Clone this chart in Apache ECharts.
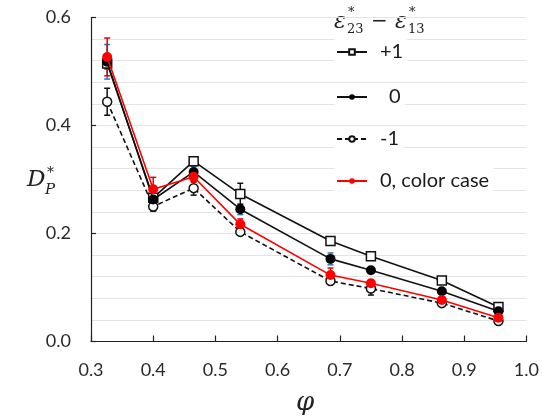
<!DOCTYPE html>
<html>
<head>
<meta charset="utf-8">
<script src="https://cdn.jsdelivr.net/npm/echarts@6/dist/echarts.min.js"></script>
<style>
  html, body { margin: 0; padding: 0; background: #fff; }
  #chart { width: 542px; height: 419px; }
</style>
</head>
<body>
<div id="chart"></div>
<script>
// Volume fraction values on the horizontal axis
const phi = [0.326, 0.400, 0.465, 0.540, 0.685, 0.750, 0.864, 0.955];

// Dimensionless D*_P for each strain difference case
const plusOne   = [0.515, 0.266, 0.334, 0.273, 0.186, 0.158, 0.113, 0.064];
const zero      = [0.518, 0.263, 0.314, 0.245, 0.153, 0.132, 0.093, 0.056];
const minusOne  = [0.444, 0.250, 0.284, 0.203, 0.112, 0.098, 0.071, 0.038];
const colorCase = [0.527, 0.282, 0.305, 0.217, 0.123, 0.108, 0.077, 0.044];

// Half-widths of the error bars
const plusOneErr   = [0.010, 0.008, 0.006, 0.020, 0.005, 0.005, 0.005, 0.004];
const zeroErr      = [0.032, 0.022, 0.010, 0.010, 0.011, 0.005, 0.005, 0.004];
const minusOneErr  = [0.025, 0.008, 0.013, 0.005, 0.005, 0.012, 0.004, 0.003];
const colorCaseErr = [0.035, 0.022, 0.010, 0.010, 0.013, 0.006, 0.005, 0.004];

const xTicks = ['0.3', '0.4', '0.5', '0.6', '0.7', '0.8', '0.9', '1.0'];
const yTicks = ['0.0', '0.2', '0.4', '0.6'];

const legendNames = ['+1', '0', '-1', '0, color case'];

const pairs = (ys) => phi.map((x, i) => [x, ys[i]]);
const bars = (ys, es) => phi.map((x, i) => [x, ys[i] - es[i], ys[i] + es[i]]);

function errorSeries(data, color) {
  return {
    type: 'custom',
    data: data,
    z: 1,
    silent: true,
    encode: { x: 0, y: [1, 2] },
    renderItem: function (params, api) {
      const x = api.value(0);
      const lo = api.coord([x, api.value(1)]);
      const hi = api.coord([x, api.value(2)]);
      const cap = 3;
      const style = { stroke: color, lineWidth: 1.5 };
      return {
        type: 'group',
        children: [
          { type: 'line', shape: { x1: lo[0], y1: lo[1], x2: hi[0], y2: hi[1] }, style: style },
          { type: 'line', shape: { x1: lo[0] - cap, y1: lo[1], x2: lo[0] + cap, y2: lo[1] }, style: style },
          { type: 'line', shape: { x1: hi[0] - cap, y1: hi[1], x2: hi[0] + cap, y2: hi[1] }, style: style }
        ]
      };
    }
  };
}

const labelFont = 'Lato, "Open Sans", sans-serif';

function legendBox(name, top, indent) {
  return {
    data: [name],
    left: 334,
    top: top,
    orient: 'vertical',
    padding: [3, 4, 3, 2],
    backgroundColor: '#fff',
    itemWidth: 30,
    itemHeight: 7,
    selectedMode: false,
    textStyle: { fontFamily: labelFont, fontSize: 20, color: '#1a1a1a', padding: [0, 0, 0, indent] }
  };
}

const chart = echarts.init(document.getElementById('chart'), null, { renderer: 'canvas' });

chart.setOption({
  animation: false,
  backgroundColor: '#fff',
  grid: { left: 91, right: 15, top: 17.5, bottom: 77.5, containLabel: false },
  xAxis: {
    type: 'value',
    min: 0.3,
    max: 1.0,
    interval: 0.1,
    axisLine: { show: true, onZero: false, lineStyle: { color: '#222', width: 1.2 } },
    axisTick: { show: true, inside: true, length: 6, lineStyle: { color: '#222', width: 1.2 } },
    splitLine: { show: false },
    axisLabel: {
      margin: 20,
      fontFamily: labelFont,
      fontSize: 18,
      color: '#2a2a2a',
      formatter: (v) => xTicks[Math.round((v - 0.3) * 10)] || ''
    }
  },
  yAxis: {
    type: 'value',
    min: 0,
    max: 0.6,
    interval: 0.2,
    axisLine: { show: true, lineStyle: { color: '#222', width: 1.2 } },
    axisTick: { show: true, inside: true, length: 5, lineStyle: { color: '#222', width: 1.2 } },
    splitLine: { show: true, lineStyle: { color: '#e4e4e4', width: 1 } },
    minorTick: { show: false, splitNumber: 5 },
    minorSplitLine: { show: true, lineStyle: { color: '#e4e4e4', width: 1 } },
    axisLabel: {
      margin: 20,
      fontFamily: labelFont,
      fontSize: 18,
      color: '#2a2a2a',
      formatter: (v) => yTicks[Math.round(v * 5)] || ''
    }
  },
  legend: [
    legendBox(legendNames[0], 39, 8),
    legendBox(legendNames[1], 84, 17),
    legendBox(legendNames[2], 126, 8),
    legendBox(legendNames[3], 168, 8)
  ],
  graphic: [
    // legend heading: epsilon*_23 - epsilon*_13
    { type: 'text', left: 334, top: 11, style: { text: 'ε', font: 'italic 22px "DejaVu Serif", serif', fill: '#222' } },
    { type: 'text', left: 348, top: 6, style: { text: '*', font: '13px "DejaVu Serif", serif', fill: '#222' } },
    { type: 'text', left: 347, top: 23, style: { text: '23', font: '13px "DejaVu Serif", serif', fill: '#222' } },
    { type: 'text', left: 371, top: 12, style: { text: '−', font: '20px "DejaVu Serif", serif', fill: '#222' } },
    { type: 'text', left: 395, top: 11, style: { text: 'ε', font: 'italic 22px "DejaVu Serif", serif', fill: '#222' } },
    { type: 'text', left: 409, top: 6, style: { text: '*', font: '13px "DejaVu Serif", serif', fill: '#222' } },
    { type: 'text', left: 408, top: 23, style: { text: '13', font: '13px "DejaVu Serif", serif', fill: '#222' } },
    // y-axis name D*_P
    { type: 'text', left: 27, top: 169, style: { text: 'D', font: 'italic 23px "DejaVu Serif", serif', fill: '#222' } },
    { type: 'text', left: 47, top: 166, style: { text: '*', font: '14px "DejaVu Serif", serif', fill: '#222' } },
    { type: 'text', left: 45, top: 183, style: { text: 'P', font: 'italic 15px "DejaVu Serif", serif', fill: '#222' } },
    // x-axis name phi
    { type: 'text', left: 296, top: 390, style: { text: 'φ', font: 'italic 26px "DejaVu Serif", serif', fill: '#222' } }
  ],
  series: [
    errorSeries(bars(zero, zeroErr), '#2e75b6'),
    errorSeries(bars(plusOne, plusOneErr), '#111'),
    errorSeries(bars(minusOne, minusOneErr), '#111'),
    errorSeries(bars(colorCase, colorCaseErr), '#e00000'),
    {
      name: legendNames[0],
      type: 'line',
      data: pairs(plusOne),
      z: 3,
      symbol: 'rect',
      symbolSize: 9,
      itemStyle: { color: '#fff', borderColor: '#111', borderWidth: 1.5 },
      lineStyle: { color: '#111', width: 1.6 }
    },
    {
      name: legendNames[2],
      type: 'line',
      data: pairs(minusOne),
      z: 3,
      symbol: 'circle',
      symbolSize: 9,
      itemStyle: { color: '#fff', borderColor: '#111', borderWidth: 1.5 },
      lineStyle: { color: '#111', width: 1.6, type: [5, 3] }
    },
    {
      name: legendNames[1],
      type: 'line',
      data: pairs(zero),
      z: 4,
      symbol: 'circle',
      symbolSize: 10,
      itemStyle: { color: '#000', borderColor: '#000', borderWidth: 0 },
      lineStyle: { color: '#111', width: 1.6 }
    },
    {
      name: legendNames[3],
      type: 'line',
      data: pairs(colorCase),
      z: 5,
      symbol: 'circle',
      symbolSize: 10,
      itemStyle: { color: '#ff0000', borderColor: '#ff0000', borderWidth: 0 },
      lineStyle: { color: '#ff0000', width: 1.6 }
    }
  ]
});
</script>
</body>
</html>
